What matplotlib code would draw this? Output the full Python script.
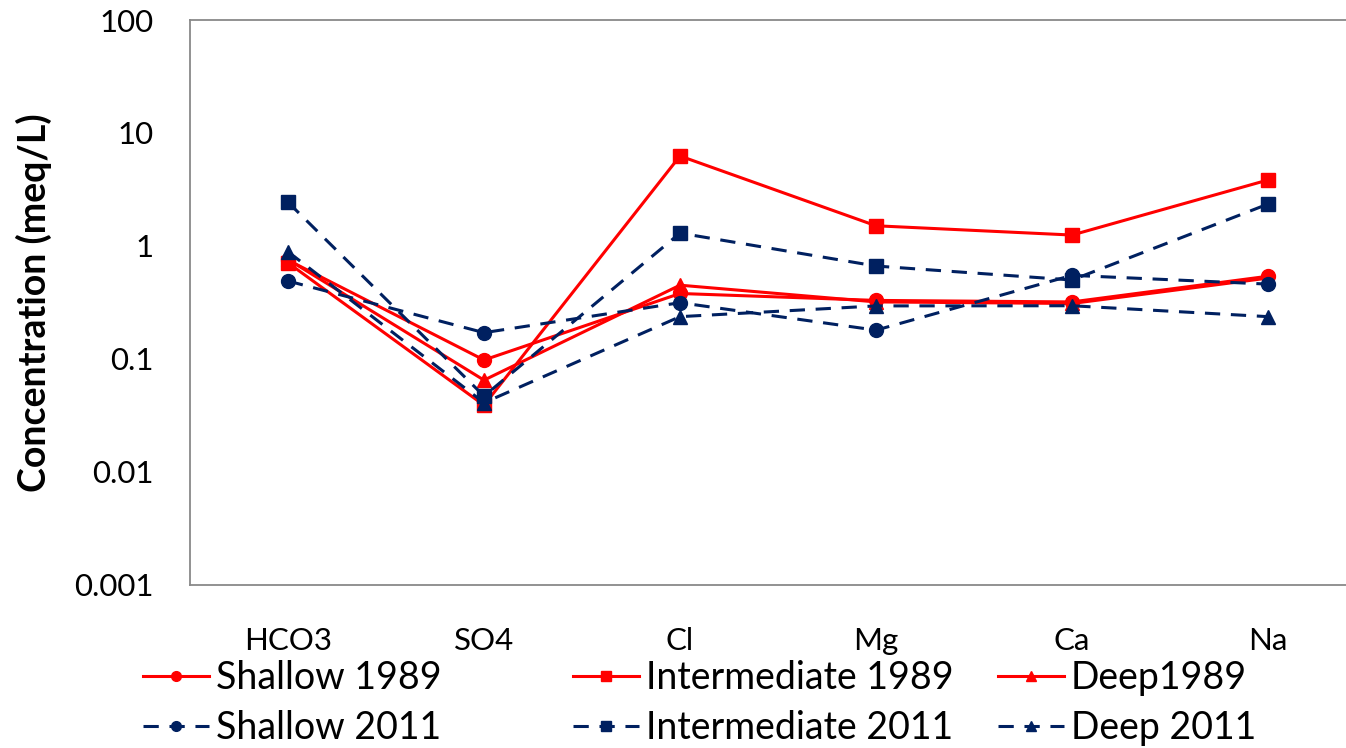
import matplotlib
matplotlib.use("Agg")
import matplotlib.pyplot as plt

plt.rcParams['font.family'] = ['Lato', 'DejaVu Sans']

ions = ["HCO3", "SO4", "Cl", "Mg", "Ca", "Na"]

shallow_1989 = [0.75, 0.098, 0.38, 0.33, 0.32, 0.54]
intermediate_1989 = [0.71, 0.039, 6.26, 1.51, 1.25, 3.84]
deep_1989 = [0.76, 0.065, 0.45, 0.32, 0.31, 0.52]
shallow_2011 = [0.49, 0.171, 0.315, 0.18, 0.55, 0.46]
intermediate_2011 = [2.44, 0.047, 1.30, 0.665, 0.50, 2.35]
deep_2011 = [0.89, 0.041, 0.237, 0.295, 0.296, 0.237]

y_ticks = [0.001, 0.01, 0.1, 1, 10, 100]
y_tick_labels = ["0.001", "0.01", "0.1", "1", "10", "100"]

RED = "#FF0000"
NAVY = "#002060"
DASH = (0, (5, 3.5))

fig = plt.figure(figsize=(13.46, 7.48), dpi=100)
ax = fig.add_axes([190 / 1346, 1 - 585 / 748, 1176 / 1346, 565 / 748])

x = list(range(len(ions)))
series = [
    ("Shallow 1989", shallow_1989, RED, "-", "o"),
    ("Intermediate 1989", intermediate_1989, RED, "-", "s"),
    ("Deep1989", deep_1989, RED, "-", "^"),
    ("Shallow 2011", shallow_2011, NAVY, DASH, "o"),
    ("Intermediate 2011", intermediate_2011, NAVY, DASH, "s"),
    ("Deep 2011", deep_2011, NAVY, DASH, "^"),
]

handles = {}
for name, vals, color, ls, mk in series:
    ms = 10.5 if mk == "s" else 10
    (h,) = ax.plot(x, vals, color=color, linestyle=ls, linewidth=2.2,
                   marker=mk, markersize=ms, markerfacecolor=color,
                   markeredgecolor=color, label=name)
    handles[name] = h

ax.set_yscale("log")
ax.set_ylim(0.001, 100)
ax.set_xlim(-0.5, 5.5)
ax.set_yticks(y_ticks)
ax.set_yticklabels(y_tick_labels)
ax.yaxis.set_minor_locator(matplotlib.ticker.NullLocator())
ax.set_xticks(x)
ax.set_xticklabels(ions)
ax.tick_params(axis="both", length=0, labelsize=22.5, colors="black")
ax.tick_params(axis="y", pad=26)
ax.tick_params(axis="x", pad=30)

for side in ["left", "right", "top", "bottom"]:
    ax.spines[side].set_color("#898989")
    ax.spines[side].set_linewidth(1.3)

ax.set_ylabel("Concentration (meq/L)", fontsize=27, fontweight="bold", labelpad=16)

# One legend per column so each column starts where it should
columns = [
    (["Shallow 1989", "Shallow 2011"], 143),
    (["Intermediate 1989", "Intermediate 2011"], 573),
    (["Deep1989", "Deep 2011"], 998),
]
for names, left_px in columns:
    leg = fig.legend([handles[n] for n in names], names, ncol=1,
                     loc="center left",
                     bbox_to_anchor=(left_px / 1346, 1 - 703 / 748),
                     frameon=False, fontsize=27, markerscale=0.7,
                     handlelength=1.75, handletextpad=0.2,
                     labelspacing=0.36, borderpad=0, borderaxespad=0)

fig.savefig("out.png", dpi=100)
